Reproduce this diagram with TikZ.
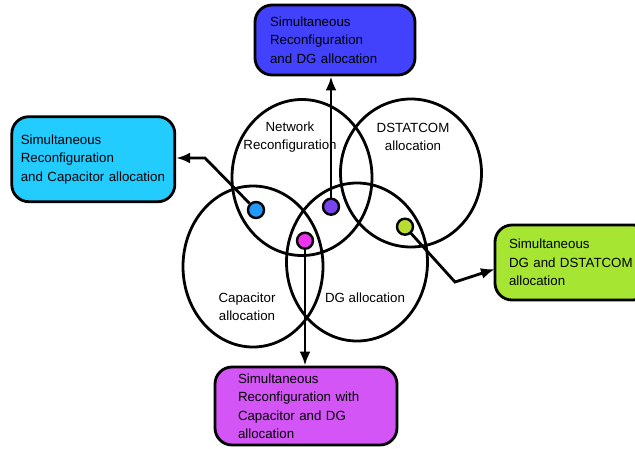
\documentclass[tikz,border=0pt]{standalone}
\usepackage{fontspec}
\setmainfont{Liberation Sans}
\usetikzlibrary{shapes.geometric,arrows.meta,calc}
\definecolor{topfill}{RGB}{66,66,252}
\definecolor{leftfill}{RGB}{34,204,255}
\definecolor{rightfill}{RGB}{166,230,50}
\definecolor{botfill}{RGB}{212,85,245}
\definecolor{dotblue}{RGB}{34,153,255}
\definecolor{dotpurple}{RGB}{119,68,238}
\definecolor{dotmag}{RGB}{238,51,238}
\definecolor{dotgreen}{RGB}{187,221,51}
\begin{document}
\begin{tikzpicture}[x=1pt,y=-1pt,
  venn/.style={ellipse,draw,line width=2.8pt,inner sep=0pt},
  lbl/.style={font=\fontsize{13.3}{18.5}\selectfont,align=center,inner sep=0pt},
  box/.style={rectangle,rounded corners=17pt,draw,line width=2.8pt,
    font=\fontsize{13.3}{18.5}\selectfont,align=left,inner ysep=0pt},
  vdot/.style={circle,draw,line width=2.4pt,minimum size=16pt,inner sep=0pt},
  arr/.style={line width=2.8pt,-{Latex[length=14pt,width=11pt]}}]
\clip (0,0) rectangle (635,448);

% Venn ellipses
\node[venn,minimum width=140pt,minimum height=156pt] (net) at (302,177.5) {};
\node[venn,minimum width=141pt,minimum height=148pt] (dst) at (411,173) {};
\node[venn,minimum width=140pt,minimum height=161pt] (cap) at (253,266.5) {};
\node[venn,minimum width=141pt,minimum height=158pt] (dg) at (357,262) {};

% Circle labels
\node[lbl] (netl) at (290,137) {Network\\Reconfiguration};
\node[lbl] (dstl) at (413,137) {DSTATCOM\\allocation};
\node[lbl] (capl) at (247,306.5) {Capacitor\\allocation};
\node[lbl] (dgl) at (365,297.5) {DG allocation};

% Boxes
\node[box,fill=topfill,minimum width=160pt,minimum height=70pt,
  inner xsep=15pt,text width=130pt] (tbox) at (335,40)
  {Simultaneous\\Reconfiguration\\and DG allocation};
\node[box,fill=leftfill,minimum width=163pt,minimum height=85pt,
  inner xsep=9pt,text width=145pt] (lbox) at (93.3,159.2)
  {Simultaneous\\Reconfiguration\\and Capacitor allocation};
\node[box,fill=rightfill,minimum width=155pt,minimum height=75pt,
  inner xsep=14pt,text width=127pt] (rbox) at (572.5,262.5)
  {Simultaneous\\DG and DSTATCOM\\allocation};
\node[box,fill=botfill,minimum width=182pt,minimum height=78pt,
  inner xsep=23pt,text width=136pt] (bbox) at (306,406)
  {Simultaneous\\Reconfiguration with\\Capacitor and DG\\allocation};

% Dots
\node[vdot,fill=dotblue] (bdot) at (256,210) {};
\node[vdot,fill=dotpurple] (pdot) at (331,206.7) {};
\node[vdot,fill=dotmag] (mdot) at (305,240.7) {};
\node[vdot,fill=dotgreen] (gdot) at (405,226.7) {};

% Connectors
\coordinate (c1) at (205,158);
\coordinate (c2) at (455,282);
\coordinate (g2) at (495,269);
\draw[arr] (bdot) -- (c1) -- (c1 -| lbox.east);
\draw[arr] (pdot) -- (pdot |- tbox.south);
\draw[arr] (mdot) -- (mdot |- bbox.north);
\draw[arr] (gdot) -- (c2) -- (g2);
\end{tikzpicture}
\end{document}
